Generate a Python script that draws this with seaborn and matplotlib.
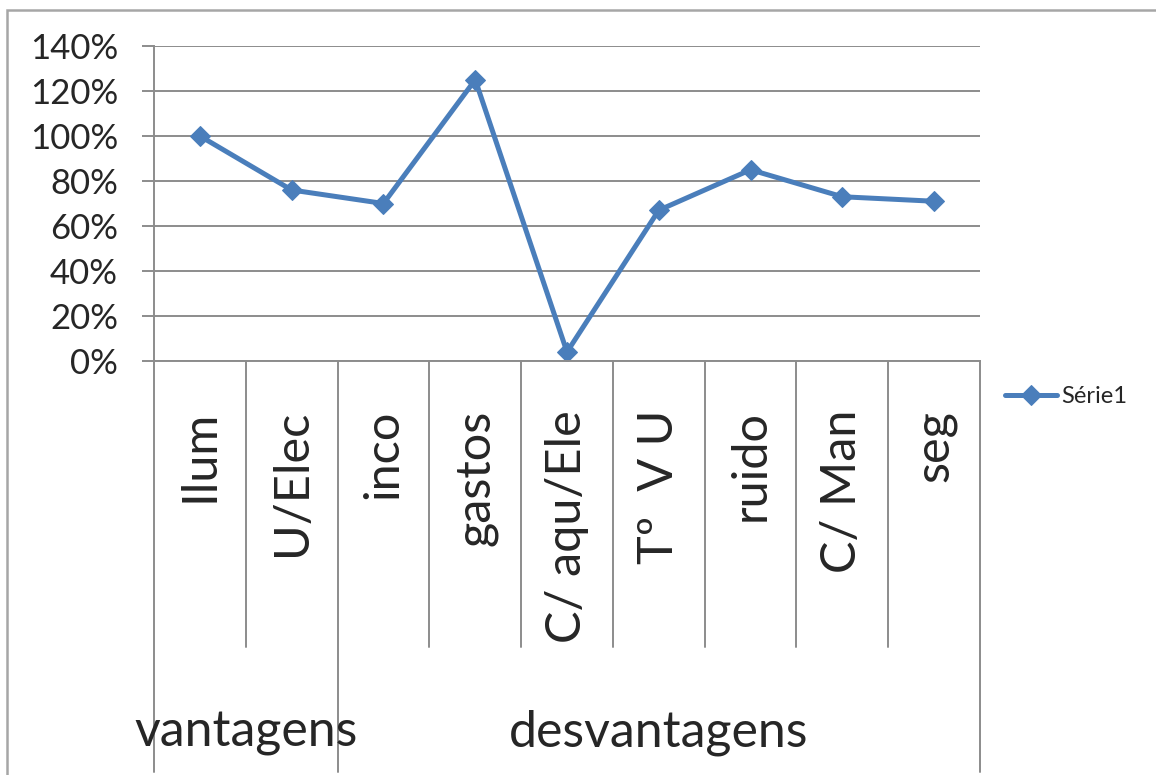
import matplotlib.pyplot as plt
import matplotlib.patches as mpatches
import matplotlib.transforms as mtransforms
from matplotlib.ticker import PercentFormatter
import numpy as np
import pandas as pd
import seaborn as sns

# data
items = ["Ilum", "U/Elec", "inco", "gastos", "C/ aqu/Ele", "Tº  V U", "ruido", "C/ Man", "seg"]
valores = [100, 76, 70, 125, 4, 67, 85, 73, 71]
grupos = ["vantagens", "desvantagens"]
grupo_tamanho = [2, 7]
serie = "Série1"
yticks = [0, 20, 40, 60, 80, 100, 120, 140]

azul = "#4A7EBB"
cinza = "#8C8C8C"

sns.set_style("white")
plt.rcParams["font.family"] = ["Lato", "DejaVu Sans"]

W, H = 1156, 775
fig = plt.figure(figsize=(W / 100, H / 100), dpi=100)
ax = fig.add_axes([154 / W, 1 - 361 / H, (980 - 154) / W, (361 - 46) / H])

df = pd.DataFrame({"item": items, "valor": valores})
sns.lineplot(data=df, x="item", y="valor", marker="D", markersize=10,
             color=azul, markeredgecolor=azul, linewidth=3.6, ax=ax,
             label=serie, sort=False)
ax.get_legend().remove()

ax.set_xlim(-0.5, len(items) - 0.5)
ax.set_ylim(0, 140)
ax.set_yticks(yticks)
ax.yaxis.set_major_formatter(PercentFormatter(xmax=100, decimals=0))
ax.set_xticks([])
ax.set_xlabel("")
ax.set_ylabel("")
ax.yaxis.grid(True, color=cinza, linewidth=1.4)
ax.set_axisbelow(True)
ax.tick_params(axis="y", length=9, width=1.4, color=cinza, direction="out",
               pad=17, labelsize=25, left=True)
for s in ["top", "right"]:
    ax.spines[s].set_visible(False)
for s in ["left", "bottom"]:
    ax.spines[s].set_color(cinza)
    ax.spines[s].set_linewidth(1.4)

# multi-level category axis below the plot
trans = mtransforms.blended_transform_factory(ax.transData, ax.transAxes)
ax_h = 315
y_short = -(647 - 361) / ax_h
y_long = -(772 - 361) / ax_h
bounds = np.cumsum([0] + grupo_tamanho) - 0.5
for i in range(len(items) + 1):
    xb = i - 0.5
    y_end = y_long if xb in bounds else y_short
    ax.plot([xb, xb], [0, y_end], color=cinza, linewidth=1.4,
            transform=trans, clip_on=False)
for i, name in enumerate(items):
    ax.text(i, -(410 - 361) / ax_h, name, rotation=90, ha="center", va="top",
            fontsize=35, transform=trans)
for g, name in enumerate(grupos):
    xc = (bounds[g] + bounds[g + 1]) / 2
    ax.text(xc, -(733 - 361) / ax_h, name, ha="center", va="center",
            fontsize=36, transform=trans)

# chart frame
fig.patches.append(mpatches.Rectangle((7 / W, -0.1), 1.2, 1.1 - 10 / H,
                                      transform=fig.transFigure, fill=False,
                                      edgecolor="#A6A6A6", linewidth=1.8))

handles, labels = ax.get_legend_handles_labels()
fig.legend(handles, labels, loc="center left",
           bbox_to_anchor=(1000 / W, 1 - 397 / H), frameon=False,
           fontsize=17, handlelength=2.2, handletextpad=0.2, borderpad=0.2,
           borderaxespad=0)

fig.savefig("out.png", dpi=100)
